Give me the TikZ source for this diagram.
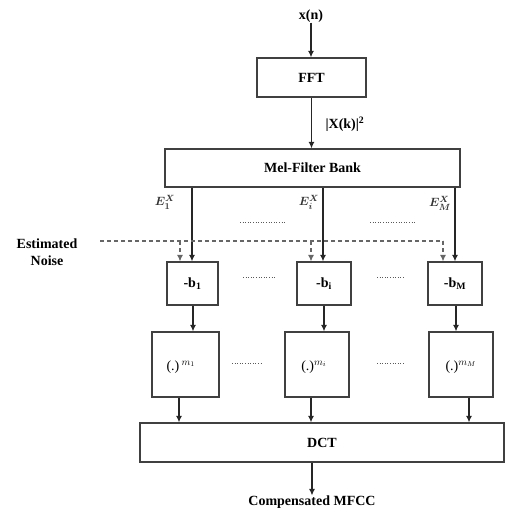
\documentclass[tikz,border=0pt]{standalone}
\usepackage{amsmath}
\usepackage{fontspec}
\setmainfont{Liberation Serif}
\usetikzlibrary{arrows.meta}
\tikzset{
  blk/.style={draw=black!75, line width=1.2pt, rectangle, inner sep=0pt, font=\fontsize{14}{16}\selectfont\bfseries},
  arr/.style={draw=black!85, line width=1.2pt, -{Latex[length=6.5pt,width=6pt]}},
  dsh/.style={draw=black!60, line width=1.1pt, dash pattern=on 4pt off 3pt},
  dsharr/.style={dsh, -{Latex[length=6.5pt,width=6pt]}},
  dotl/.style={draw=black!65, line width=1pt, dash pattern=on 1pt off 1.6pt},
  lbl/.style={font=\fontsize{14}{16}\selectfont\bfseries, inner sep=0pt},
  elbl/.style={font=\fontsize{13}{15}\selectfont, inner sep=0pt, text=black!80},
}
\begin{document}
\begin{tikzpicture}[x=1pt,y=-1pt]
\useasboundingbox (0,0) rectangle (505,516);
% nodes
\node[lbl] (xn) at (311,16) {x(n)};
\node[blk, minimum width=109pt, minimum height=39pt] (fft) at (311.5,77.5) {FFT};
\node[lbl] (xk) at (345,124) {|X(k)|\textsuperscript{2}};
\node[blk, minimum width=295pt, minimum height=38pt] (mel) at (312.5,168) {Mel-Filter Bank};
\node[elbl] (e1) at (165,202) {$\boldsymbol{E_1^X}$};
\node[elbl] (ei) at (309,202) {$\boldsymbol{E_i^X}$};
\node[elbl] (em) at (440,203) {$\boldsymbol{E_M^X}$};
\node[lbl, align=center] (noise) at (47,252) {Estimated\\[1pt]Noise};
\node[blk, minimum width=51pt, minimum height=43pt] (b1) at (192.5,283.5) {-b$_{\mathbf 1}$};
\node[blk, minimum width=54pt, minimum height=43pt] (bi) at (324,283.5) {-b$_{\mathbf i}$};
\node[blk, minimum width=54pt, minimum height=43pt] (bm) at (455,283.5) {-b$_{\mathbf M}$};
\node[blk, minimum width=67pt, minimum height=65pt] (p1) at (185.5,364.5) {};
\node[blk, minimum width=64pt, minimum height=65pt] (pi) at (317,364.5) {};
\node[blk, minimum width=64pt, minimum height=65pt] (pm) at (461,364.5) {};
\node[lbl, font=\fontsize{14}{16}\selectfont] (t1) at (181,367) {(.)\,$^{m_1}$};
\node[lbl, font=\fontsize{14}{16}\selectfont] (ti) at (314,367) {(.)$^{m_i}$};
\node[lbl, font=\fontsize{14}{16}\selectfont] (tm) at (461,367) {(.)$^{m_M}$};
\node[blk, minimum width=364pt, minimum height=39pt] (dct) at (322,442.5) {DCT};
\node[lbl] (out) at (312,502) {Compensated MFCC};
% x positions
\coordinate (c1) at (192,0);
\coordinate (ci) at (323,0);
\coordinate (cm) at (455,0);
\coordinate (n1) at (180,241);
\coordinate (ni) at (311,241);
\coordinate (nm) at (443,241);
\coordinate (ns) at (100,241);
\coordinate (q1) at (193,0);
\coordinate (qi) at (324,0);
\coordinate (qm) at (456,0);
\coordinate (r1) at (179,0);
\coordinate (ri) at (311,0);
\coordinate (rm) at (469,0);
% connectors
\draw[arr] (xn) -- (fft.north -| xn);
\draw[arr] (fft) -- (mel.north -| fft);
\draw[arr] (mel.south -| c1) -- (b1.north -| c1);
\draw[arr] (mel.south -| ci) -- (bi.north -| ci);
\draw[arr] (mel.south -| cm) -- (bm.north -| cm);
\draw[dsh] (ns) -- (nm);
\draw[dsharr] (n1) -- (b1.north -| n1);
\draw[dsharr] (ni) -- (bi.north -| ni);
\draw[dsharr] (nm) -- (bm.north -| nm);
\draw[arr] (b1.south -| q1) -- (p1.north -| q1);
\draw[arr] (bi.south -| qi) -- (pi.north -| qi);
\draw[arr] (bm.south -| qm) -- (pm.north -| qm);
\draw[arr] (p1.south -| r1) -- (dct.north -| r1);
\draw[arr] (pi.south -| ri) -- (dct.north -| ri);
\draw[arr] (pm.south -| rm) -- (dct.north -| rm);
\draw[arr] (dct.south -| out) -- (out.north);
% dotted separators
\coordinate (d1a) at (240,222); \coordinate (d1b) at (286,222);
\coordinate (d2a) at (370,222); \coordinate (d2b) at (416,222);
\coordinate (d3a) at (243,277); \coordinate (d3b) at (275,277);
\coordinate (d4a) at (377,277); \coordinate (d4b) at (405,277);
\coordinate (d5a) at (232,363); \coordinate (d5b) at (263,363);
\coordinate (d6a) at (377,363); \coordinate (d6b) at (405,363);
\draw[dotl] (d1a) -- (d1b);
\draw[dotl] (d2a) -- (d2b);
\draw[dotl] (d3a) -- (d3b);
\draw[dotl] (d4a) -- (d4b);
\draw[dotl] (d5a) -- (d5b);
\draw[dotl] (d6a) -- (d6b);
\end{tikzpicture}
\end{document}
